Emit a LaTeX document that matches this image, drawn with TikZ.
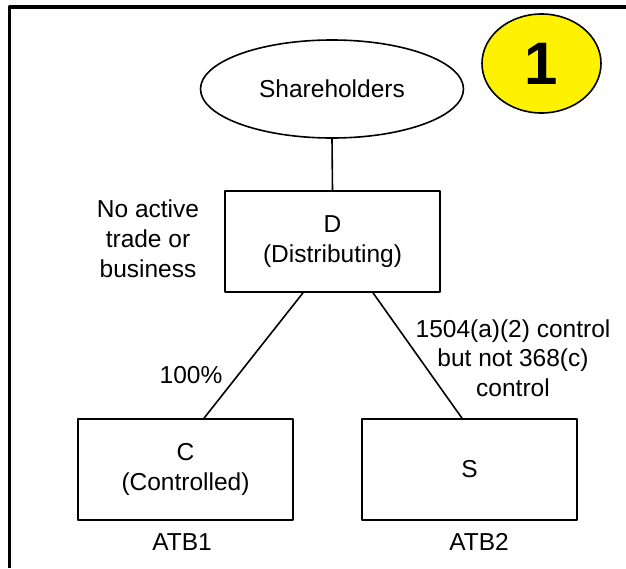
\documentclass[tikz,border=0pt]{standalone}
\usepackage{fontspec}
\setmainfont{Liberation Sans}
\usetikzlibrary{shapes.geometric}
\begin{document}
\begin{tikzpicture}[x=1pt,y=-1pt,line join=round,line width=1.6pt,
	font=\fontsize{24.5}{30}\selectfont,
	corp/.style={draw,rectangle,minimum width=215,minimum height=101,align=center,inner sep=0},
	txt/.style={align=center,inner sep=0}]
	\useasboundingbox (0,0) rectangle (626,568);
	% frame
	\draw[line width=3.5pt,line cap=butt] (9.5,568) |- (626,7);
	\path
	(332,89) node[ellipse,draw,minimum width=263,minimum height=98,inner sep=0] (SH) {Shareholders}
	(541.5,63.5) node[ellipse,draw,fill=yellow,minimum width=119,minimum height=99,inner sep=0] (N1) {\fontsize{60}{60}\selectfont\bfseries 1}
	(332.5,241.5) node[corp] (D) {D\\(Distributing)}
	(185.5,469.5) node[corp] (C) {C\\(Controlled)}
	(469.5,469.5) node[corp] (S) {S}
	(148,239) node[txt] (NoATB) {No active\\trade or\\business}
	(191,375) node[txt] (Pct) {100\%}
	(513,358) node[txt,font=\fontsize{24.5}{29.5}\selectfont] (Ctl) {1504(a)(2) control\\but not 368(c)\\control}
	(182,542) node[txt] (ATB1) {ATB1}
	(479,542) node[txt] (ATB2) {ATB2}
	;
	\draw
	(SH.south)--(D.north)
	([xshift=-29.5]D.south)--([xshift=18.5]C.north)
	([xshift=40.5]D.south)--([xshift=-7.5]S.north)
	;
\end{tikzpicture}
\end{document}
